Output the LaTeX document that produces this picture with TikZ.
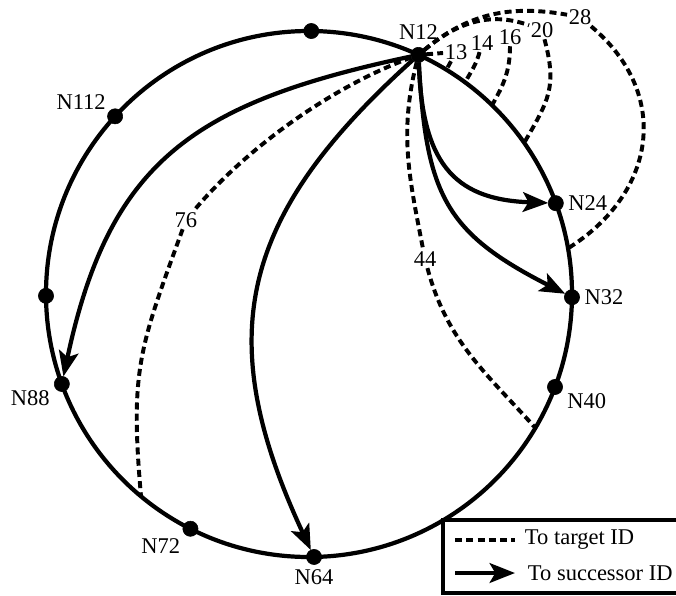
\documentclass[tikz,border=0pt]{standalone}
\usepackage{fontspec}
\setmainfont{Liberation Serif}
\usetikzlibrary{arrows.meta}

\tikzset{
	peer/.style={draw,circle,fill=black,inner sep=0,outer sep=0,minimum size=0.38cm},
	ring/.style={line width=3pt},
	succ/.style={line width=3pt,-{Stealth[length=18pt,width=14pt,inset=4pt]}},
	target/.style={line width=2.8pt,dash pattern=on 5pt off 3pt},
	idlabel/.style={inner sep=1pt},
}

\begin{document}
\begin{tikzpicture}[x=0.025cm,y=0.025cm,font=\fontsize{16}{19}\selectfont]
	\useasboundingbox (-309,-301) rectangle (367,294);
	\clip (-309,-301) rectangle (367,294);
	% ring
	\draw[ring] (0,0) circle (263);
	% peers
	\node[peer] (top) at (89.5:263) {};
	\node[peer,label={[label distance=2pt]above:N12}] (n12) at (65.4:263) {};
	\node[peer,label=right:N24] (n24) at (20.2:263) {};
	\node[peer,label=right:N32] (n32) at (-0.7:263) {};
	\node[peer,label=-15:N40] (n40) at (-20.7:263) {};
	\node[peer,label=below:N64] (n64) at (-88.9:263) {};
	\node[peer,label=-135:N72] (n72) at (-116.8:263) {};
	\node[peer,label=-165:N88] (n88) at (-160:263) {};
	\node[peer] (left) at (180.4:263) {};
	\node[peer,label={[label distance=-2pt]158:N112}] (n112) at (137.5:263) {};
	% target points on the ring
	\coordinate (t13) at (58.5:263);
	\coordinate (t14) at (53.6:263);
	\coordinate (t16) at (45.9:263);
	\coordinate (t20) at (35.1:263);
	\coordinate (t28) at (10:263);
	\coordinate (t44) at (-30.6:263);
	\coordinate (t76) at (-129.7:263);
	% target ids
	\node[idlabel] (l13) at (147,242) {13};
	\node[idlabel] (l14) at (173,251) {14};
	\node[idlabel] (l16) at (201,257) {16};
	\node[idlabel] (l20) at (233,264) {20};
	\node[idlabel] (l28) at (271,277) {28};
	\node[idlabel] (l44) at (116,35) {44};
	\node[idlabel] (l76) at (-123,74) {76};
	% to target id
	\draw[target] (n12) -- (l13) -- (t13);
	\draw[target] (l14) to[out=-105,in=61] (t14);
	\draw[target] (l16) to[out=-90,in=60] (t16);
	\draw[target] (n12) to[out=40,in=160] (l20);
	\draw[target] (l20) to[out=-75,in=60,looseness=1.2] (t20);
	\draw[target] (n12) to[out=40,in=170] (l28);
	\draw[target] (l28) to[out=-40,in=32,looseness=1.2] (t28);
	\draw[target] (n12) to[out=256,in=101] (l44);
	\draw[target] (l44) to[out=-75,in=132] (t44);
	\draw[target] (n12) to[out=200,in=50,looseness=0.8] (l76);
	\draw[target] (l76) to[out=250,in=95,looseness=1.2] (t76);
	% to successor id
	\draw[succ] (n12) to[out=272,in=178,looseness=1.3] (n24);
	\draw[succ] (n12) to[out=273,in=153,looseness=1.25] (n32);
	\draw[succ] (n12) to[out=222,in=115,looseness=1.2] (n64);
	\draw[succ] (n12) to[out=192,in=78,looseness=1.2] (n88);
	% legend
	\draw[line width=2.6pt] (134,-226) rectangle (372,-299);
	\coordinate (keya) at (146,-246);
	\coordinate (keyb) at (206,-246);
	\draw[target] (keya) -- (keyb);
	\node[anchor=west] (keytgt) at (211,-246) {To target ID};
	\coordinate (keyc) at (146,-279);
	\coordinate (keyd) at (206,-279);
	\draw[succ] (keyc) -- (keyd);
	\node[anchor=west] (keysucc) at (214,-279) {To successor ID};
\end{tikzpicture}
\end{document}
